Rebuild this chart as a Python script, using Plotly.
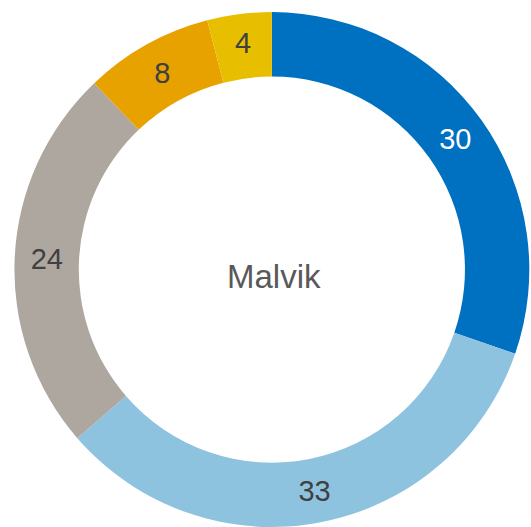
import plotly.graph_objects as go

# data
categories = ["A", "B", "C", "D", "E"]
values = [30, 33, 24, 8, 4]
colors = ["#0070C0", "#8DC3DF", "#AEA79F", "#E8A200", "#E8BE00"]
text_colors = ["#FFFFFF", "#404040", "#404040", "#404040", "#404040"]
center_label = "Malvik"

fig = go.Figure(go.Pie(
    labels=categories, values=values, hole=0.75,
    sort=False, direction="clockwise", rotation=0,
    marker=dict(colors=colors, line=dict(width=0)),
    textinfo="value", textposition="inside", insidetextorientation="horizontal",
    insidetextfont=dict(family="Liberation Sans, Arial, sans-serif", size=29, color=text_colors),
    domain=dict(x=[0.026, 0.998], y=[0.0, 0.977]),
    showlegend=False, hoverinfo="label+value",
))
fig.update_layout(
    width=531, height=527,
    margin=dict(l=0, r=0, t=0, b=0),
    paper_bgcolor="white", plot_bgcolor="white",
    annotations=[dict(
        text=center_label, x=0.516, y=0.476, xref="paper", yref="paper",
        showarrow=False, font=dict(family="Liberation Sans, Arial, sans-serif", size=33, color="#595959"),
    )],
)
fig.write_html("out.html", config={"displayModeBar": False},
               post_script="document.body.style.margin='0';")
